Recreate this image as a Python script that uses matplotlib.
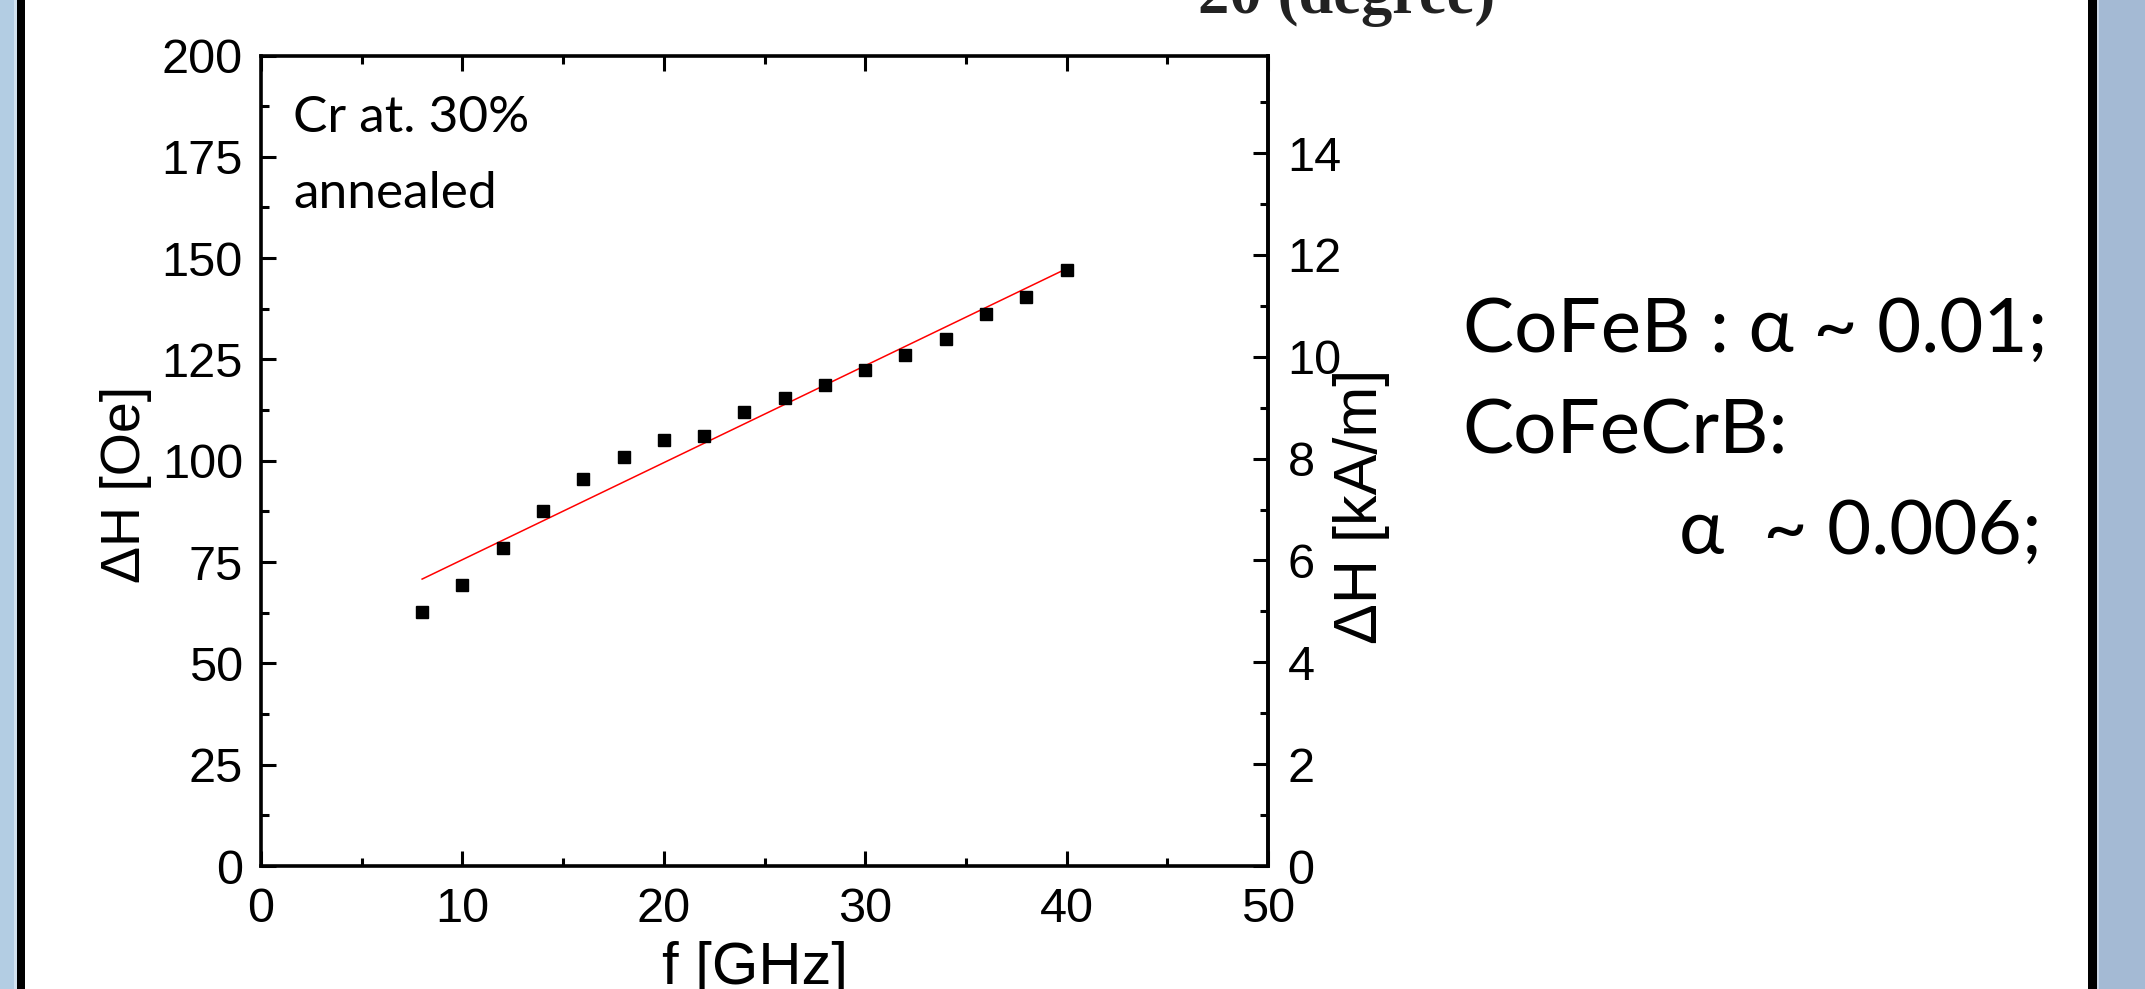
import matplotlib
matplotlib.use("Agg")
import matplotlib.pyplot as plt
from matplotlib.patches import Rectangle
from matplotlib.ticker import MultipleLocator

# ---- data ----
freq_ghz = [8, 10, 12, 14, 16, 18, 20, 22, 24, 26, 28, 30, 32, 34, 36, 38, 40]
dH_oe = [62.6, 69.4, 78.4, 87.5, 95.4, 101.0, 105.0, 106.1, 112.1, 115.6,
         118.8, 122.5, 126.0, 130.1, 136.1, 140.3, 147.1]
fit_f = [8, 40]
fit_dH = [70.8, 147.4]
x_ticks = [0, 10, 20, 30, 40, 50]
y_ticks = [0, 25, 50, 75, 100, 125, 150, 175, 200]
y2_ticks = [0, 2, 4, 6, 8, 10, 12, 14]
OE_TO_KAM = 0.0795775

W, H = 2145, 989
fig = plt.figure(figsize=(W / 100, H / 100), dpi=100)
fig.patch.set_facecolor("white")

def px_rect(x0, x1, color):
    fig.patches.append(Rectangle((x0 / W, 0), (x1 - x0) / W, 1, transform=fig.transFigure,
                                 facecolor=color, edgecolor="none", zorder=-10))

# slide frame
px_rect(0, 14, "#B3CDE3")
px_rect(14, 17, "#D2E2EF")
px_rect(17, 25, "#000000")
px_rect(2088, 2097, "#000000")
px_rect(2097, 2099, "#C9D6E5")
px_rect(2099, W, "#A4BAD4")

def fx(x):
    return x / W

def fy(y):
    return 1 - y / H

# cropped title from previous figure
fig.text(fx(1347), fy(13), "2θ (degree)", family="Liberation Serif", weight="bold",
         fontsize=45, ha="center", va="baseline", color="#222222")

ax_l, ax_r, ax_t, ax_b = 261, 1268, 55.5, 866
ax = fig.add_axes([fx(ax_l), fy(ax_b), (ax_r - ax_l) / W, (ax_b - ax_t) / H])

ax.plot(freq_ghz, dH_oe, linestyle="none", marker="s", markersize=8.3,
        color="black", zorder=3)
ax.plot(fit_f, fit_dH, color="red", linewidth=1.1, zorder=2)

ax.set_xlim(0, 50)
ax.set_ylim(0, 200)
ax.set_xticks(x_ticks)
ax.set_yticks(y_ticks)
ax.xaxis.set_minor_locator(MultipleLocator(5))
ax.yaxis.set_minor_locator(MultipleLocator(12.5))

for lab in ax.get_xticklabels() + ax.get_yticklabels():
    lab.set_fontfamily("Liberation Sans")
    lab.set_fontsize(35)

ax.tick_params(axis="x", which="both", direction="in", top=True, bottom=True,
               width=2.2, pad=15)
ax.tick_params(axis="y", which="both", direction="in", left=True, right=False,
               width=2.2, pad=13)
ax.tick_params(which="major", length=11)
ax.tick_params(which="minor", length=5.5)
for s in ax.spines.values():
    s.set_linewidth(2.6)

sec = ax.secondary_yaxis("right", functions=(lambda v: v * OE_TO_KAM,
                                              lambda v: v / OE_TO_KAM))
sec.set_yticks(y2_ticks)
sec.yaxis.set_minor_locator(MultipleLocator(1))
sec.tick_params(which="both", direction="in", width=2.2, pad=14,
                labelsize=35)
sec.tick_params(which="major", length=11)
sec.tick_params(which="minor", length=5.5)
for lab in sec.get_yticklabels():
    lab.set_fontfamily("Liberation Sans")
sec.spines["right"].set_linewidth(2.6)

# axis titles
fig.text(fx(755), fy(984), "f [GHz]", family="Liberation Sans", fontsize=43,
         ha="center", va="baseline")
fig.text(fx(126), fy(484), "ΔH [Oe]", family="Liberation Sans", fontsize=40,
         ha="center", va="center", rotation=90)
fig.text(fx(1362), fy(506), "ΔH [kA/m]", family="Liberation Sans", fontsize=44,
         ha="center", va="center", rotation=90)

# annotation inside plot
fig.text(fx(293), fy(132), "Cr at. 30%", family=["Lato", "DejaVu Sans"], fontsize=37,
         ha="left", va="baseline")
fig.text(fx(293), fy(208), "annealed", family=["Lato", "DejaVu Sans"], fontsize=37,
         ha="left", va="baseline")

# side text
side_font = ["Lato", "DejaVu Sans"]
fig.text(fx(1463), fy(352), "CoFeB : α ~ 0.01;", family=side_font, fontsize=55,
         ha="left", va="baseline")
fig.text(fx(1462), fy(453), "CoFeCrB:", family=side_font, fontsize=55,
         ha="left", va="baseline")
fig.text(fx(2042), fy(554), "α  ~ 0.006;", family=side_font, fontsize=55,
         ha="right", va="baseline")

fig.savefig("out.png", dpi=100)
